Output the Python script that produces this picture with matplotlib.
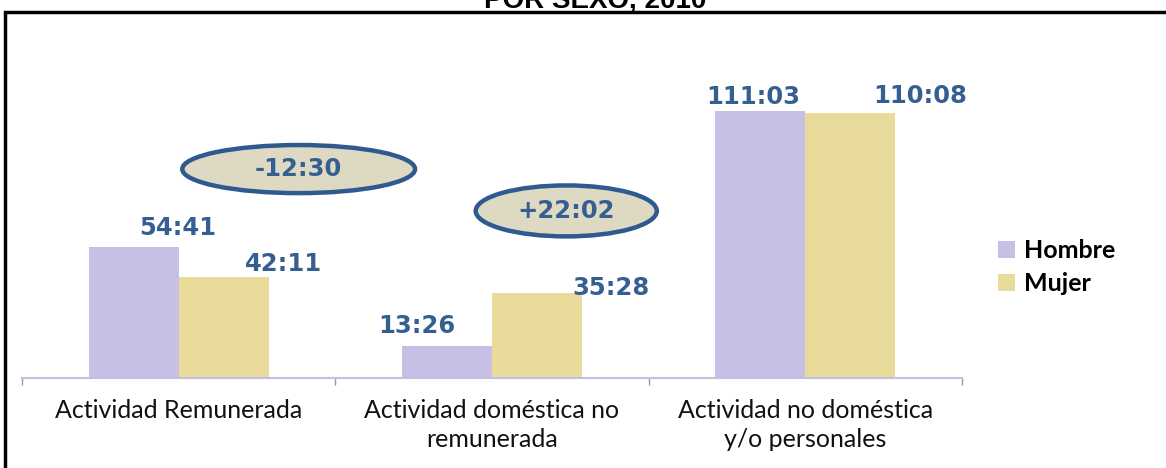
import matplotlib.pyplot as plt
from matplotlib.patches import Ellipse, Patch, Rectangle
import numpy as np

# data (hours:minutes per week)
categories = ["Actividad Remunerada", "Actividad doméstica no\nremunerada", "Actividad no doméstica\ny/o personales"]
hombre_lbl = ["54:41", "13:26", "111:03"]
mujer_lbl = ["42:11", "35:28", "110:08"]
diff_lbl = ["-12:30", "+22:02"]
series_names = ["Hombre", "Mujer"]


def to_hours(s):
    h, m = s.split(":")
    return int(h) + int(m) / 60.0


hombre = [to_hours(s) for s in hombre_lbl]
mujer = [to_hours(s) for s in mujer_lbl]

c_hombre = "#c7bfe5"
c_mujer = "#e9dc9b"
c_text = "#365f91"

W, H = 1166, 468
fig = plt.figure(figsize=(W / 100, H / 100), dpi=100)

# border box around the chart
fig.patches.append(Rectangle((5 / W, -0.1), 1.2, 1 - 12 / H + 0.1, transform=fig.transFigure,
                             fill=False, edgecolor="black", linewidth=2.5))

# cut-off title at the very top (the original is cropped too)
fig.text(595 / W, 1 - 8 / H, "POR SEXO, 2010", ha="center", va="baseline",
         fontsize=20, fontweight="bold", family="Liberation Sans")

ax = fig.add_axes([22 / W, 90 / H, 940 / W, 348.6 / H])
x = np.arange(len(categories))
bw = 0.2875
ax.bar(x - bw / 2, hombre, bw, color=c_hombre, label=series_names[0])
ax.bar(x + bw / 2, mujer, bw, color=c_mujer, label=series_names[1])
ax.set_xlim(-0.5, 2.5)
ax.set_ylim(0, 145)

# value labels (offsets in points from top of bar, hand placed like the original)
h_off = [(32, 8), (-22, 9), (-5, 5)]
m_off = [(43, 4), (53, -1.5), (50, 7.5)]
for i in range(len(categories)):
    ax.annotate(hombre_lbl[i], (x[i] - bw / 2, hombre[i]), xytext=h_off[i], textcoords="offset points",
                ha="center", va="baseline", fontsize=17.5, fontweight="bold", color=c_text)
    ax.annotate(mujer_lbl[i], (x[i] + bw / 2, mujer[i]), xytext=m_off[i], textcoords="offset points",
                ha="center", va="baseline", fontsize=17.5, fontweight="bold", color=c_text)

# difference ellipses
ell_pos = [(0.383, 86.9, 0.743, 20.0), (1.237, 69.5, 0.578, 21.2)]
for (ex, ey, ew, eh), txt in zip(ell_pos, diff_lbl):
    ax.add_patch(Ellipse((ex, ey), ew, eh, facecolor="#ddd9c3", edgecolor="#2e5a8f", linewidth=3.2, zorder=3))
    ax.text(ex, ey, txt, ha="center", va="center", fontsize=17.5, fontweight="bold", color=c_text, zorder=4)

for s in ["top", "right", "left"]:
    ax.spines[s].set_visible(False)
ax.spines["bottom"].set_color("#c6bde3")
ax.spines["bottom"].set_linewidth(1.5)
ax.set_yticks([])
ax.set_xticks(x)
ax.set_xticklabels(categories, fontsize=18, family="Lato", linespacing=1.3, color="#111111")
ax.tick_params(axis="x", length=0, pad=15)
ax.set_xticks([-0.5, 0.5, 1.5, 2.5], minor=True)
ax.tick_params(axis="x", which="minor", length=5, color="#999999", width=1)

handles = [Patch(facecolor=c_hombre), Patch(facecolor=c_mujer)]
fig.legend(handles, series_names, loc="center left", bbox_to_anchor=(975 / W, 1 - 267 / H),
           frameon=False, prop={"family": "Lato", "size": 18, "weight": "bold"},
           handlelength=0.7, handleheight=0.7, handletextpad=0.35, labelspacing=0.4)

fig.savefig("out.png", dpi=100)
